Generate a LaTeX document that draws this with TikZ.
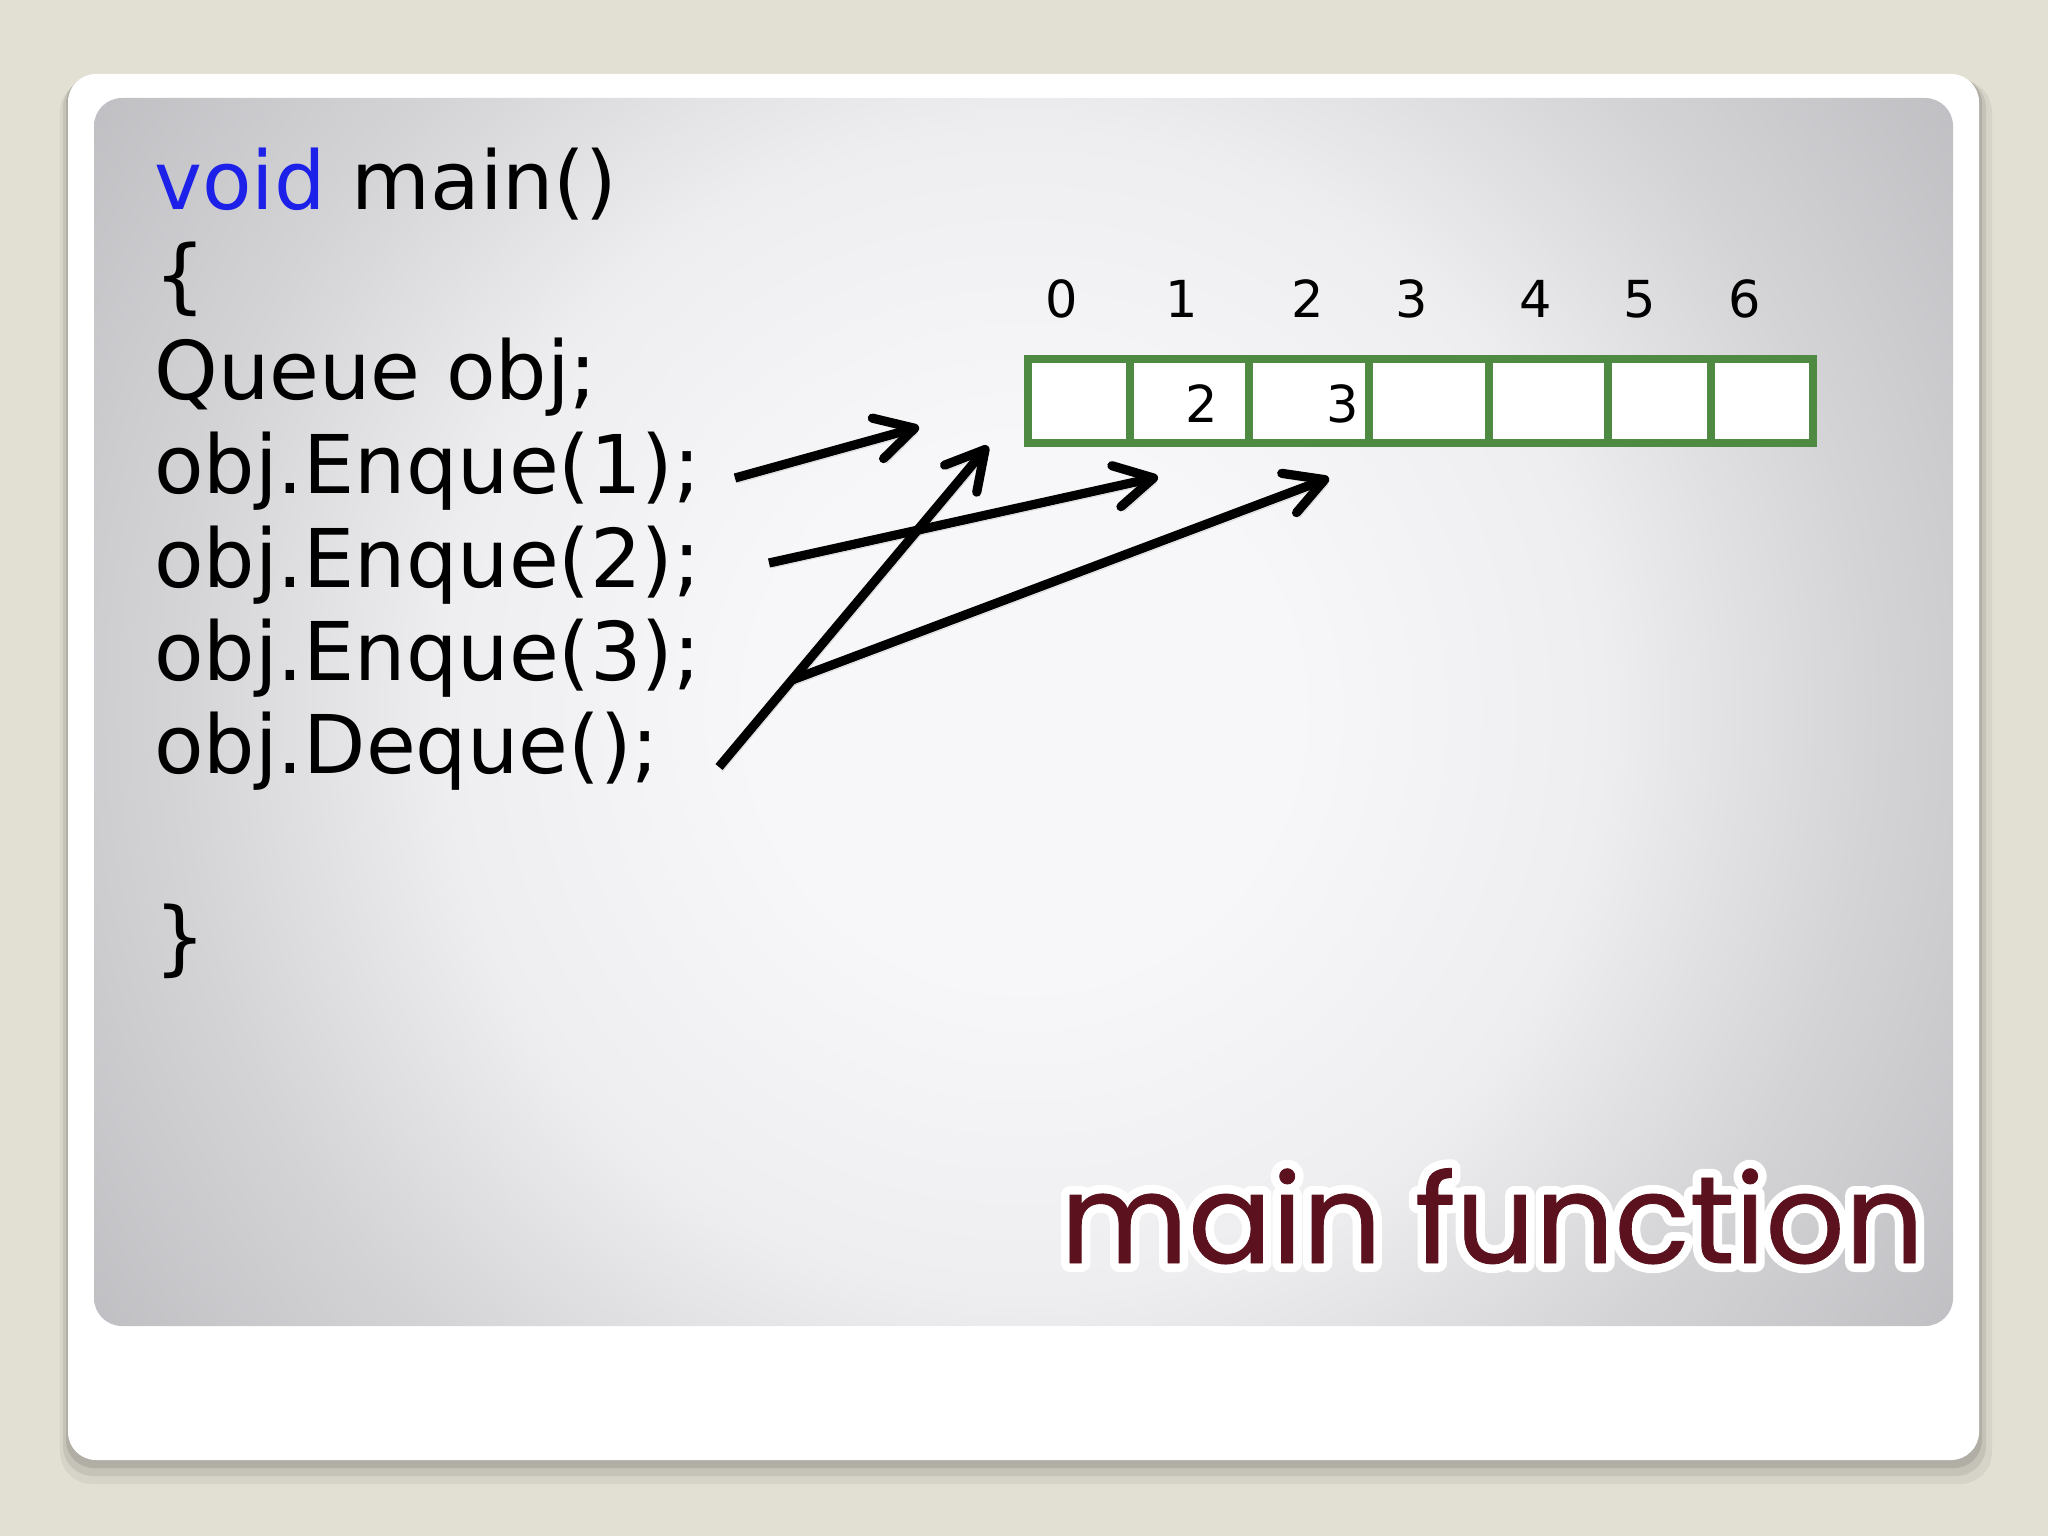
\documentclass[tikz,border=0pt]{standalone}
\usepackage{fontspec}
\setmainfont{DejaVu Sans}
\newfontfamily\titlefont{Poppins}
\usetikzlibrary{arrows.meta}
\definecolor{bgbeige}{RGB}{226,223,211}
\definecolor{pcenter}{RGB}{247,247,249}
\definecolor{plight}{RGB}{238,238,240}
\definecolor{pmid}{RGB}{212,212,215}
\definecolor{pdark}{RGB}{178,177,181}
\definecolor{pedge}{RGB}{164,163,168}
\definecolor{kwblue}{RGB}{28,32,232}
\definecolor{qgreen}{RGB}{78,138,66}
\definecolor{titlered}{RGB}{92,18,30}
\pgfdeclareradialshading{panelshade}{\pgfpoint{0bp}{0bp}}{color(0bp)=(pcenter); color(6bp)=(pcenter); color(13bp)=(plight); color(19bp)=(pmid); color(29bp)=(pdark); color(35bp)=(pedge); color(60bp)=(pedge)}
\tikzset{
  codeline/.style={anchor=base west, inner sep=0pt, font=\fontsize{40.5pt}{48pt}\selectfont},
  idx/.style={anchor=base, inner sep=0pt, font=\fontsize{25.5pt}{30pt}\selectfont},
  cell/.style={draw=qgreen, line width=4pt, fill=white, inner sep=0pt, minimum height=42pt, anchor=west},
  ptr/.style={line width=4.6pt, -{Straight Barb[length=19pt,width=21pt,round]},
    preaction={draw=black, opacity=0.12, transform canvas={shift={(1.5pt,-2.5pt)}}}}
}
\begin{document}
\begin{tikzpicture}[x=0.5pt,y=-0.5pt]
\useasboundingbox[fill=bgbeige] (0,0) rectangle (2048,1536);
% card shadow
\fill[black, opacity=0.05, rounded corners=16pt] (60,80) rectangle (1992,1484);
\fill[black, opacity=0.08, rounded corners=15pt] (63,78) rectangle (1986,1476);
\fill[black, opacity=0.10, rounded corners=14pt] (66,76) rectangle (1982,1468);
% white card
\fill[white, rounded corners=14pt] (68,74) rectangle (1979,1460);
% gray panel
\begin{scope}
  \clip[rounded corners=14pt] (94,98) rectangle (1953,1326);
  \shade[shading=panelshade] (-90.5,-402) rectangle (2137.5,1826);
\end{scope}
% code
\node[codeline] (l0) at (154,209) {\textcolor{kwblue}{void} main()};
\node[codeline] (l1) at (154,303) {\{};
\node[codeline] (l2) at (154,399) {Queue obj;};
\node[codeline] (l3) at (154,493) {obj.Enque(1);};
\node[codeline] (l4) at (154,587) {obj.Enque(2);};
\node[codeline] (l5) at (154,680) {obj.Enque(3);};
\node[codeline] (l6) at (154,773) {obj.Deque();};
\node[codeline] (l8) at (154,965) {\}};
% indices
\node[idx] (i0) at (1062,317) {0};
\node[idx] (i1) at (1182,317) {1};
\node[idx] (i2) at (1308,317) {2};
\node[idx] (i3) at (1412,317) {3};
\node[idx] (i4) at (1536,317) {4};
\node[idx] (i5) at (1640,317) {5};
\node[idx] (i6) at (1745,317) {6};
% cells
\node[cell, minimum width=51pt]   (c0) at (1024,400.5) {};
\node[cell, minimum width=59.5pt] (c1) at (1126,400.5) {};
\node[cell, minimum width=60pt]   (c2) at (1245,400.5) {};
\node[cell, minimum width=60pt]   (c3) at (1365,400.5) {};
\node[cell, minimum width=59.5pt] (c4) at (1485,400.5) {};
\node[cell, minimum width=51.5pt] (c5) at (1604,400.5) {};
\node[cell, minimum width=51pt]   (c6) at (1707,400.5) {};
\node[idx] (v1) at (1202,422) {2};
\node[idx] (v2) at (1343,422) {3};
% arrows
\coordinate (a1s) at (735,478);
\coordinate (a1e) at (919,427);
\coordinate (a2s) at (719,767);
\coordinate (a2e) at (988,446);
\coordinate (a3s) at (769,563);
\coordinate (a3e) at (1158,477);
\coordinate (a4s) at (792,680);
\coordinate (a4e) at (1329,478);
\draw[ptr] (a1s) -- (a1e);
\draw[ptr] (a2s) -- (a2e);
\draw[ptr] (a3s) -- (a3e);
\draw[ptr] (a4s) -- (a4e);
% title
\node[anchor=base west, inner sep=0pt, font=\titlefont\fontsize{62pt}{64pt}\selectfont] (title) at (1060,1263)
  {\rlap{\color{white}\special{pdf:literal direct 1 Tr 9 w 1 j 1 J}main function\special{pdf:literal direct 0 Tr}}\textcolor{titlered}{\special{pdf:literal direct 2 Tr 0.4 w 1 j}main function\special{pdf:literal direct 0 Tr}}};
\end{tikzpicture}
\end{document}
